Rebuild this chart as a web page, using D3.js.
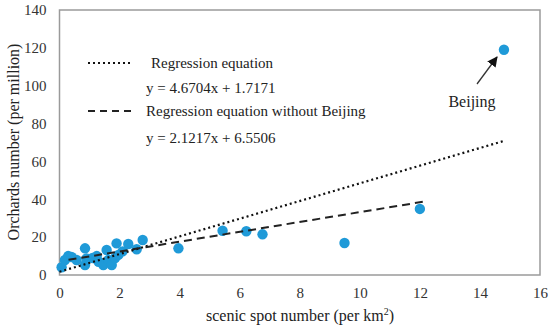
<!DOCTYPE html>
<html><head><meta charset="utf-8">
<script src="https://cdn.jsdelivr.net/npm/d3@7"></script>
<style>body{margin:0;background:#fff}svg{display:block}svg text{font-family:"Liberation Serif","Times New Roman","DejaVu Serif",serif !important}</style>
</head><body><svg id="c" width="550" height="327"></svg>
<script>
const scenicX = [0.07,0.18,0.29,0.40,0.57,0.85,0.85,0.90,1.10,1.24,1.30,1.46,1.57,1.63,1.74,1.85,1.90,1.96,2.10,2.29,2.57,2.77,3.96,5.43,6.22,6.76,9.49,12.0,14.8];
const orchardY = [4.1,7.9,10.0,9.5,7.9,14.1,5.3,8.8,9.0,10.0,7.0,5.3,13.2,7.9,5.3,9.0,16.7,10.6,12.5,16.4,13.6,18.5,14.1,23.4,23.1,21.5,16.9,34.9,119];
const xTicks = [0,2,4,6,8,10,12,14,16];
const yTicks = [0,20,40,60,80,100,120,140];
const dottedX = [0,14.8];           // Regression equation y = 4.6704x + 1.7171
const dottedY = [1.7171,70.84];
const dashedX = [0.3,12.15];        // Regression equation without Beijing (as drawn)
const dashedY = [8.0,38.8];
const legendLabels = ["Regression equation","y = 4.6704x + 1.7171","Regression equation without Beijing","y = 2.1217x + 6.5506"];

const FONT = '"Liberation Serif","Times New Roman","DejaVu Serif",serif';
const svg = d3.select("#c").style("font-family",FONT);
const L=59.5,R=540,T=10,B=275;
const x = d3.scaleLinear().domain([0,16]).range([L,R]);
const y = d3.scaleLinear().domain([0,140]).range([B,T]);

// frame
svg.append("rect").attr("x",L).attr("y",T).attr("width",R-L).attr("height",B-T)
  .attr("fill","none").attr("stroke","#9a9a9a").attr("stroke-width",1.5);

// axes (labels only)
const gx = svg.append("g").attr("transform",`translate(0,${B})`)
  .call(d3.axisBottom(x).tickValues(xTicks).tickSize(0).tickPadding(12));
const gy = svg.append("g").attr("transform",`translate(${L},0)`)
  .call(d3.axisLeft(y).tickValues(yTicks).tickSize(0).tickPadding(13));
[gx,gy].forEach(g=>{g.attr("font-family",null); g.select(".domain").remove();
  g.selectAll("text").attr("font-size",15).attr("fill","#333").style("font-family",FONT);});

// axis titles
svg.append("text").attr("x",300).attr("y",321).attr("text-anchor","middle").attr("font-size",16).attr("fill","#222")
  .style("font-family",FONT)
  .html('scenic spot number (per km<tspan dy="-6" font-size="10">2</tspan><tspan dy="6">)</tspan>');
svg.append("text").attr("transform","translate(19,142) rotate(-90)").attr("text-anchor","middle")
  .attr("font-size",16).attr("fill","#222").style("font-family",FONT).text("Orchards number (per million)");

// points
svg.append("g").selectAll("circle").data(scenicX.map((d,i)=>[d,orchardY[i]])).join("circle")
  .attr("cx",d=>x(d[0])).attr("cy",d=>y(d[1])).attr("r",5.2).attr("fill","#1f9ad8");

// regression lines
const line = d3.line().x(d=>x(d[0])).y(d=>y(d[1]));
svg.append("path").attr("d",line(dottedX.map((d,i)=>[d,dottedY[i]])))
  .attr("stroke","#111").attr("stroke-width",2.2).attr("stroke-dasharray","2,3").attr("fill","none");
svg.append("path").attr("d",line(dashedX.map((d,i)=>[d,dashedY[i]])))
  .attr("stroke","#222").attr("stroke-width",2).attr("stroke-dasharray","8,5").attr("fill","none");

// legend
svg.append("line").attr("x1",88).attr("x2",130).attr("y1",63).attr("y2",63)
  .attr("stroke","#111").attr("stroke-width",2.2).attr("stroke-dasharray","2,3");
svg.append("line").attr("x1",88).attr("x2",131).attr("y1",111).attr("y2",111)
  .attr("stroke","#222").attr("stroke-width",2).attr("stroke-dasharray","7,5");
const lx=[151,146,146,146], ly=[68,93,116,143];
legendLabels.forEach((t,i)=>svg.append("text").attr("x",lx[i]).attr("y",ly[i]).attr("font-size",15).attr("fill","#222").style("font-family",FONT).text(t));

// Beijing annotation
svg.append("defs").append("marker").attr("id","ah").attr("viewBox","0 0 10 10").attr("refX",9).attr("refY",5)
  .attr("markerWidth",8).attr("markerHeight",8).attr("orient","auto")
  .append("path").attr("d","M0,0L10,5L0,10z").attr("fill","#111");
svg.append("line").attr("x1",477).attr("y1",84).attr("x2",497).attr("y2",57)
  .attr("stroke","#333").attr("stroke-width",1.3).attr("marker-end","url(#ah)");
svg.append("text").attr("x",472).attr("y",107).attr("text-anchor","middle").attr("font-size",16).attr("fill","#222").style("font-family",FONT).text("Beijing");
</script></body></html>
